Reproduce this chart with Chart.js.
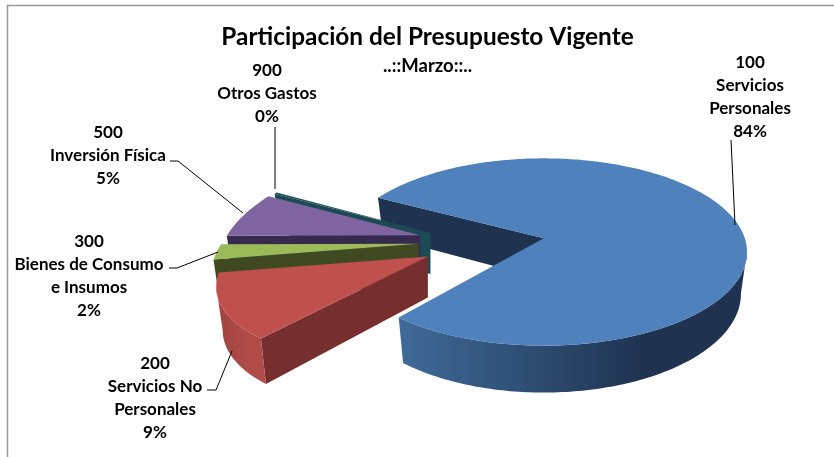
<!DOCTYPE html>
<html>
<head>
<meta charset="utf-8">
<title>Participación del Presupuesto Vigente</title>
<script src="https://cdn.jsdelivr.net/npm/chart.js@4"></script>
<style>
  html, body { margin: 0; padding: 0; background: #fff; }
  canvas { display: block; }
</style>
</head>
<body>
<canvas id="budget-chart" width="834" height="457"></canvas>
<script>
// Budget groups, in the order the slices run clockwise
const codes = ['100', '200', '300', '500', '900'];
const names = [['Servicios', 'Personales'], ['Servicios No', 'Personales'], ['Bienes de Consumo', 'e Insumos'], ['Inversión Física'], ['Otros Gastos']];
const shares = [83.8, 9, 1.7, 5.3, 0.2];
const explode = [46, 46, 46, 46, 42];

// Slice colours
const topColors = ['#4f81bd', '#c0504d', '#9bbb59', '#8064a2', '#1f4e5a'];
const wallColors = ['#1f3350', '#762f2e', '#3f4a22', '#362a4e', '#1b4a55'];
const rimLeftColors = ['#426f9f', '#a04441', '#6d8a3a', '#5d4a7a', '#1b4a55'];
const rimRightColors = ['#1f3350', '#b04b48', '#6d8a3a', '#5d4a7a', '#1b4a55'];

// Label block centre x, first line y
const labelX = [750, 155, 89, 108, 267];
const labelY = [62, 363, 241, 132, 70];
// Leader lines, drawn as [x, y] runs
const leaders = [
  [[731, 140], [735, 225]],
  [[207, 390], [216, 390], [232, 351]],
  [[169, 268], [177, 268], [218, 252]],
  [[170, 161], [178, 161], [243, 213]],
  [[275, 127], [275, 189]]
];

// Projection of the pie plane onto the screen
const view = {
  shiftX: 54.5,    // pie centre sits right of the chart area centre
  scaleX: 1.385,   // horizontal radius / library radius
  scaleY: 0.631,   // vertical radius / library radius
  perspective: 0.148,
  warp: 1.5,       // widens angles on the left, as Excel's 3D view does
  depth: 41,
  bottomX: 0.97,
  bottomY: 1.055
};
// Exploded left slices narrow towards the back and widen towards the front
const leanBack = [0, 0.0033, 0.0033, 0.0015, 0.0018];
const leanFront = [0, 0.0019, 0.0019, 0.0019, 0.0019];
const stretchFront = [1, 1.03, 1.03, 1, 1];
const radial = [1, 1, 0.98, 0.96, 1];
const lift = [0, -4, -4, -3, 0];
const drawOrder = [0, 4, 3, 2, 1];
const FONT = 'Lato, "Open Sans", sans-serif';

function warped(theta) {
  return Math.atan2(Math.sin(theta), view.warp * Math.cos(theta));
}

// Top and bottom outline of one slice in screen coordinates
function sliceOutline(arc, R, i) {
  const rx = R * view.scaleX;
  const ry = R * view.scaleY;
  // library angles start at 3 o'clock, ours at 12 o'clock
  const start = arc.startAngle + Math.PI / 2;
  const end = arc.endAngle + Math.PI / 2;
  const mid = warped((start + end) / 2);
  const d = arc.options.offset / R;
  const ax = arc.x + view.shiftX + d * rx * Math.sin(mid);
  const ay = arc.y - d * ry * Math.cos(mid) + lift[i];

  const rim = [];
  const steps = Math.max(2, Math.ceil((end - start) / (Math.PI / 120)));
  for (let s = 0; s <= steps; s++) {
    const a = warped(start + (end - start) * s / steps);
    const u = Math.sin(a);
    const v = Math.cos(a);
    const w = 1 + view.perspective * v;
    const dy = -ry * v / w;
    const lean = 1 + dy * (dy < 0 ? leanBack[i] : leanFront[i]);
    rim.push([ax + rx * u / w * lean * radial[i], ay + (dy > 0 ? dy * stretchFront[i] : dy)]);
  }
  const lower = p => [ax + (p[0] - ax) * view.bottomX, ay + (p[1] - ay) * view.bottomY + view.depth];
  return { apex: [ax, ay], rim, lower };
}

function fillPath(ctx, pts, fill) {
  ctx.beginPath();
  pts.forEach((p, i) => (i ? ctx.lineTo(p[0], p[1]) : ctx.moveTo(p[0], p[1])));
  ctx.closePath();
  ctx.fillStyle = fill;
  ctx.fill();
}

const pie3d = {
  id: 'pie3d',
  // replaces the flat arcs with extruded ones
  beforeDatasetsDraw(chart) {
    const ctx = chart.ctx;
    const arcs = chart.getDatasetMeta(0).data;
    drawOrder.forEach(i => {
      const arc = arcs[i];
      const { apex, rim, lower } = sliceOutline(arc, arc.outerRadius, i);
      const first = rim[0];
      const last = rim[rim.length - 1];

      // walls are visible when the clockwise edge runs leftwards
      if (first[0] < apex[0]) {
        fillPath(ctx, [apex, first, lower(first), lower(apex)], wallColors[i]);
      }
      if (apex[0] < last[0]) {
        fillPath(ctx, [last, apex, lower(apex), lower(last)], wallColors[i]);
      }

      // outer wall: the part of the rim that runs leftwards
      const front = rim.filter((p, k) => (k < rim.length - 1 && rim[k + 1][0] < p[0]) || (k > 0 && p[0] < rim[k - 1][0]));
      if (front.length > 1) {
        const xs = rim.map(p => p[0]);
        const minX = Math.min(...xs);
        const grad = ctx.createLinearGradient(minX, 0, minX + (Math.max(...xs) - minX) * 0.72, 0);
        grad.addColorStop(0, rimLeftColors[i]);
        grad.addColorStop(1, rimRightColors[i]);
        fillPath(ctx, [...front, ...front.slice().reverse().map(lower)], grad);
      }
      fillPath(ctx, [apex, ...rim], topColors[i]);
    });
    return false;
  },
  afterDraw(chart) {
    const ctx = chart.ctx;
    // chart frame: only the left and top edges fall inside the picture
    ctx.strokeStyle = '#999';
    ctx.lineWidth = 1.5;
    ctx.beginPath();
    ctx.moveTo(7.5, 457);
    ctx.lineTo(7.5, 5.5);
    ctx.lineTo(834, 5.5);
    ctx.stroke();

    ctx.strokeStyle = '#000';
    ctx.lineWidth = 1;
    leaders.forEach(run => {
      ctx.beginPath();
      run.forEach((p, i) => (i ? ctx.lineTo(p[0], p[1]) : ctx.moveTo(p[0], p[1])));
      ctx.stroke();
    });

    // data labels
    const total = shares.reduce((a, b) => a + b, 0);
    ctx.fillStyle = '#000';
    ctx.font = 'bold 17px ' + FONT;
    ctx.textAlign = 'center';
    ctx.textBaseline = 'middle';
    codes.forEach((code, i) => {
      const lines = [code, ...names[i], Math.round(shares[i] / total * 100) + '%'];
      lines.forEach((line, k) => ctx.fillText(line, labelX[i], labelY[i] + 1 + k * 23));
    });
  }
};

new Chart(document.getElementById('budget-chart'), {
  type: 'pie',
  data: {
    labels: codes,
    datasets: [{
      data: shares,
      offset: explode,
      borderWidth: 0,
      backgroundColor: topColors
    }]
  },
  options: {
    responsive: false,
    animation: false,
    rotation: 289.6,
    layout: { padding: { left: 21, bottom: 43.6 } },
    plugins: {
      legend: { display: false },
      tooltip: { enabled: false },
      title: {
        display: true,
        text: 'Participación del Presupuesto Vigente',
        color: '#000',
        font: { family: FONT, size: 24.4, weight: 'bold' },
        padding: { top: 22.6, bottom: 0 }
      },
      subtitle: {
        display: true,
        text: '..::Marzo::..',
        color: '#000',
        font: { family: FONT, size: 18.5, weight: 'bold' },
        padding: { top: 3, bottom: 0 }
      }
    }
  },
  plugins: [pie3d]
});
</script>
</body>
</html>
